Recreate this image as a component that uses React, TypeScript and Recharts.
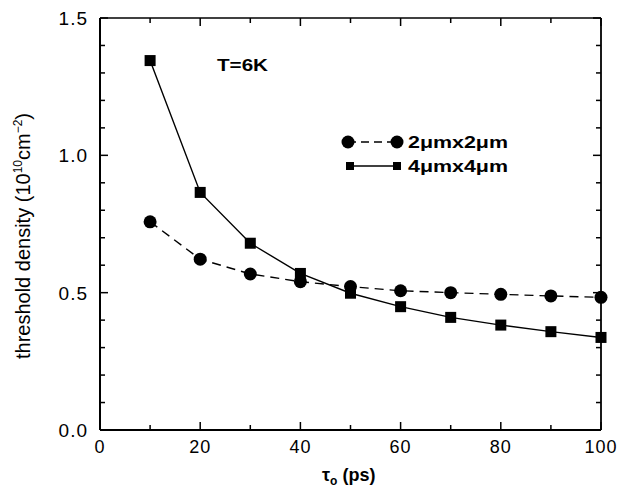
import React from 'react';
import { LineChart, Line, XAxis, YAxis } from 'recharts';

const TAU = [10, 20, 30, 40, 50, 60, 70, 80, 90, 100];
const SMALL_MESA = [0.758, 0.622, 0.568, 0.54, 0.522, 0.507, 0.5, 0.494, 0.488, 0.483];
const LARGE_MESA = [1.345, 0.865, 0.68, 0.57, 0.498, 0.449, 0.41, 0.382, 0.358, 0.337];

const X_TICKS = [0, 10, 20, 30, 40, 50, 60, 70, 80, 90, 100];
const Y_TICKS = [0, 0.1, 0.2, 0.3, 0.4, 0.5, 0.6, 0.7, 0.8, 0.9, 1.0, 1.1, 1.2, 1.3, 1.4, 1.5];

const data = TAU.map((t, i) => ({ tau: t, small: SMALL_MESA[i], large: LARGE_MESA[i] }));

const FONT = '"Liberation Sans", Arial, Helvetica, sans-serif';
const INK = '#000';

const isMajorX = (v: number) => v % 20 === 0;
const isMajorY = (v: number) => Math.abs(v * 2 - Math.round(v * 2)) < 1e-6;

// eslint-disable-next-line @typescript-eslint/no-explicit-any
function BottomTick(props: any) {
  const { x, y, payload } = props;
  const major = isMajorX(payload.value);
  return (
    <g>
      <line x1={x} x2={x} y1={y} y2={y - (major ? 8 : 5)} stroke={INK} strokeWidth={1.5} />
      {major && (
        <text x={x} y={y + 23} textAnchor="middle" fontSize={18} letterSpacing={1} fill={INK} stroke="none" fontFamily={FONT}>
          {payload.value}
        </text>
      )}
    </g>
  );
}

// eslint-disable-next-line @typescript-eslint/no-explicit-any
function TopTick(props: any) {
  const { x, y, payload } = props;
  const major = isMajorX(payload.value);
  return <line x1={x} x2={x} y1={y} y2={y + (major ? 8 : 5)} stroke={INK} strokeWidth={1.5} />;
}

// eslint-disable-next-line @typescript-eslint/no-explicit-any
function LeftTick(props: any) {
  const { x, y, payload } = props;
  const major = isMajorY(payload.value);
  return (
    <g>
      <line x1={x} x2={x + (major ? 8 : 5)} y1={y} y2={y} stroke={INK} strokeWidth={1.5} />
      {major && (
        <text x={x - 12} y={y + 7} textAnchor="end" fontSize={19} letterSpacing={1} fill={INK} stroke="none" fontFamily={FONT}>
          {payload.value.toFixed(1)}
        </text>
      )}
    </g>
  );
}

// eslint-disable-next-line @typescript-eslint/no-explicit-any
function RightTick(props: any) {
  const { x, y, payload } = props;
  const major = isMajorY(payload.value);
  return <line x1={x} x2={x - (major ? 8 : 5)} y1={y} y2={y} stroke={INK} strokeWidth={1.5} />;
}

// eslint-disable-next-line @typescript-eslint/no-explicit-any
function SquareDot(props: any) {
  const { cx, cy } = props;
  if (cx == null || cy == null) return null;
  return <rect x={cx - 5.5} y={cy - 5.5} width={11} height={11} fill={INK} />;
}

export default function App() {
  return (
    <div style={{ position: 'absolute', left: 0, top: 0, width: 618, height: 487, background: '#fff' }}>
      {/* annotations, legend and axis titles sit underneath the chart layer */}
      <svg
        width={618}
        height={487}
        style={{ position: 'absolute', left: 0, top: 0, pointerEvents: 'none' }}
        fontFamily={FONT}
      >
        <text x={217} y={71} fontSize={16} fontWeight="bold" fill={INK} textLength={51} lengthAdjust="spacingAndGlyphs">
          T=6K
        </text>

        <line x1={348} x2={397} y1={142} y2={142} stroke={INK} strokeWidth={1.4} strokeDasharray="8 5" />
        <circle cx={348} cy={142} r={6.5} fill={INK} />
        <circle cx={397} cy={142} r={6.5} fill={INK} />
        <text x={408} y={148} fontSize={17} fontWeight="bold" fill={INK} textLength={100} lengthAdjust="spacingAndGlyphs">
          2μmx2μm
        </text>
        <line x1={350} x2={397} y1={166} y2={166} stroke={INK} strokeWidth={1.4} />
        <rect x={346} y={162} width={8} height={8} fill={INK} />
        <rect x={393} y={162} width={8} height={8} fill={INK} />
        <text x={408} y={172} fontSize={17} fontWeight="bold" fill={INK} textLength={100} lengthAdjust="spacingAndGlyphs">
          4μmx4μm
        </text>

        <text x={322} y={481} fontSize={18} fontWeight="bold" fill={INK}>
          τ<tspan fontSize={12} dy={4}>o</tspan>
          <tspan dy={-4}> (ps)</tspan>
        </text>
        <text x={30} y={236} fontSize={20} fill={INK} textAnchor="middle" transform="rotate(-90 30 236)">
          threshold density (10<tspan fontSize={12} dy={-8}>10</tspan>
          <tspan dy={8}>cm</tspan>
          <tspan fontSize={12} dy={-8}>−2</tspan>
          <tspan dy={8}>)</tspan>
        </text>
      </svg>

      <div style={{ position: 'relative' }}>
        <LineChart width={618} height={487} data={data} margin={{ top: 17, right: 16, bottom: 0, left: 0 }}>
          <XAxis
            dataKey="tau"
            type="number"
            domain={[0, 100]}
            ticks={X_TICKS}
            interval={0}
            height={57}
            tickSize={0}
            tickMargin={0}
            tickLine={false}
            stroke={INK}
            axisLine={{ stroke: INK, strokeWidth: 2.2 }}
            tick={<BottomTick />}
          />
          <XAxis
            xAxisId="top"
            dataKey="tau"
            orientation="top"
            type="number"
            domain={[0, 100]}
            allowDataOverflow
            ticks={X_TICKS}
            interval={0}
            height={1}
            tickSize={0}
            tickMargin={0}
            tickLine={false}
            stroke={INK}
            axisLine={{ stroke: INK, strokeWidth: 1.6 }}
            tick={<TopTick />}
          />
          <YAxis
            type="number"
            domain={[0, 1.5]}
            ticks={Y_TICKS}
            interval={0}
            width={100}
            tickSize={0}
            tickMargin={0}
            tickLine={false}
            stroke={INK}
            axisLine={{ stroke: INK, strokeWidth: 2 }}
            tick={<LeftTick />}
          />
          <YAxis
            yAxisId="right"
            orientation="right"
            type="number"
            domain={[0, 1.5]}
            allowDataOverflow
            ticks={Y_TICKS}
            interval={0}
            width={1}
            tickSize={0}
            tickMargin={0}
            tickLine={false}
            stroke={INK}
            axisLine={{ stroke: INK, strokeWidth: 1.8 }}
            tick={<RightTick />}
          />
          <Line
            dataKey="small"
            type="linear"
            stroke={INK}
            strokeWidth={1.4}
            strokeDasharray="9 6"
            dot={{ r: 6.5, fill: INK, stroke: 'none' }}
            activeDot={false}
            isAnimationActive={false}
          />
          <Line
            dataKey="large"
            type="linear"
            stroke={INK}
            strokeWidth={1.4}
            dot={<SquareDot />}
            activeDot={false}
            isAnimationActive={false}
          />
        </LineChart>
      </div>
    </div>
  );
}
